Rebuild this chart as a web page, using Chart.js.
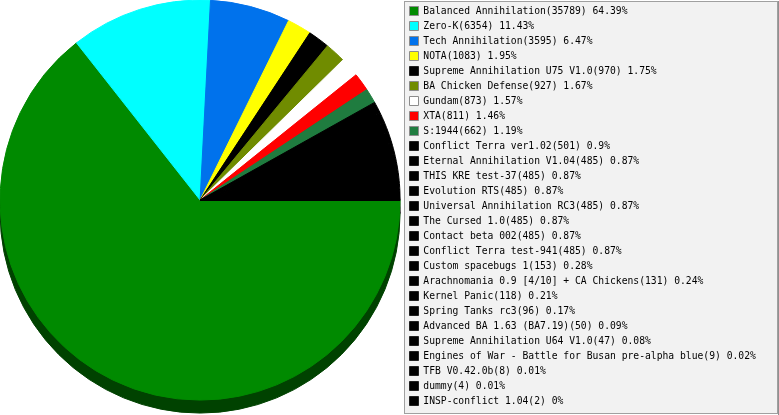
<!DOCTYPE html>
<html><head><meta charset="utf-8">
<script src="https://cdn.jsdelivr.net/npm/chart.js@4/dist/chart.umd.min.js"></script>
<style>
html,body{margin:0;padding:0;background:#fff;overflow:hidden;width:779px;height:415px;position:relative;}
#wrap{position:absolute;left:-4px;top:-11px;width:783px;height:427px;}
canvas{display:block;}
</style>
</head><body>
<div id="wrap"><canvas id="c" width="783" height="427"></canvas></div>
<script>
const modNames = [
  'Balanced Annihilation','Zero-K','Tech Annihilation','NOTA','Supreme Annihilation U75 V1.0',
  'BA Chicken Defense','Gundam','XTA','S:1944','Conflict Terra ver1.02',
  'Eternal Annihilation V1.04','THIS KRE test-37','Evolution RTS','Universal Annihilation RC3',
  'The Cursed 1.0','Contact beta 002','Conflict Terra test-941','Custom spacebugs 1',
  'Arachnomania 0.9 [4/10] + CA Chickens','Kernel Panic','Spring Tanks rc3',
  'Advanced BA 1.63 (BA7.19)','Supreme Annihilation U64 V1.0',
  'Engines of War - Battle for Busan pre-alpha blue','TFB V0.42.0b','dummy','INSP-conflict 1.04'
];
const playCounts = [35789,6354,3595,1083,970,927,873,811,662,501,485,485,485,485,485,485,485,153,131,118,96,50,47,9,8,4,2];
const shareLabels = ['64.39%','11.43%','6.47%','1.95%','1.75%','1.67%','1.57%','1.46%','1.19%','0.9%',
  '0.87%','0.87%','0.87%','0.87%','0.87%','0.87%','0.87%','0.28%','0.24%','0.21%','0.17%',
  '0.09%','0.08%','0.02%','0.01%','0.01%','0%'];
const sliceColors = ['#008a00','#00ffff','#0072ec','#ffff00','#000000','#708c00','#ffffff','#ff0000','#1f7c3f']
  .concat(new Array(18).fill('#000000'));

function darker(hex){
  const n = parseInt(hex.slice(1),16);
  const r = (n>>16)&255, g = (n>>8)&255, b = n&255;
  return 'rgb(' + Math.round(r*0.48) + ',' + Math.round(g*0.48) + ',' + Math.round(b*0.48) + ')';
}

// canvas is offset by (-4, -11) on the page
const OX = 4, OY = 11;

const panelPlugin = {
  id: 'legendPanel',
  beforeInit(chart){
    if (chart.legend) {
      const originalFit = chart.legend.fit;
      chart.legend.fit = function(){
        originalFit.call(this);
        this.width = 374.8;
      };
    }
  },
  beforeDraw(chart){
    const ctx = chart.ctx;
    ctx.save();
    ctx.fillStyle = '#f2f2f2';
    ctx.fillRect(404 + OX, 1 + OY, 374, 413);
    ctx.strokeStyle = '#a0a0a0';
    ctx.lineWidth = 1;
    ctx.strokeRect(404.5 + OX, 1.5 + OY, 373, 412);
    ctx.strokeStyle = '#909090';
    ctx.beginPath();
    ctx.moveTo(778.5 + OX, 1 + OY); ctx.lineTo(778.5 + OX, 415 + OY);
    ctx.stroke();
    ctx.restore();
  },
  beforeDatasetsDraw(chart){
    const ctx = chart.ctx;
    const meta = chart.getDatasetMeta(0);
    ctx.save();
    meta.data.forEach((arc, i) => {
      const p = arc.getProps(['x','y','startAngle','endAngle','outerRadius'], true);
      const col = darker(sliceColors[i]);
      ctx.beginPath();
      ctx.moveTo(p.x, p.y + 13);
      ctx.arc(p.x, p.y + 13, p.outerRadius, p.startAngle, p.endAngle);
      ctx.closePath();
      ctx.fillStyle = col;
      ctx.strokeStyle = col;
      ctx.lineWidth = 1;
      ctx.fill();
      ctx.stroke();
    });
    ctx.restore();
  }
};

new Chart(document.getElementById('c'), {
  type: 'pie',
  data: {
    labels: modNames,
    datasets: [{
      data: playCounts,
      backgroundColor: sliceColors,
      borderColor: sliceColors,
      borderWidth: 1,
      radius: 200
    }]
  },
  options: {
    responsive: false,
    animation: false,
    rotation: 90,
    layout: { padding: { left: 0, right: 0, top: 0, bottom: 4.85 } },
    plugins: {
      tooltip: { enabled: false },
      legend: {
        position: 'right',
        align: 'end',
        labels: {
          boxWidth: 9,
          boxHeight: 9,
          padding: 5.3,
          color: '#000',
          font: { family: '"DejaVu Sans Mono", monospace', size: 9.7 },
          generateLabels(chart){
            return modNames.map((n, i) => ({
              text: n + '(' + playCounts[i] + ') ' + shareLabels[i],
              fillStyle: sliceColors[i],
              strokeStyle: sliceColors[i] === '#000000' ? '#202020' : '#8c8c8c',
              lineWidth: 1,
              hidden: false,
              index: i,
              fontColor: '#000'
            }));
          }
        }
      }
    }
  },
  plugins: [panelPlugin]
});
</script>
</body></html>
